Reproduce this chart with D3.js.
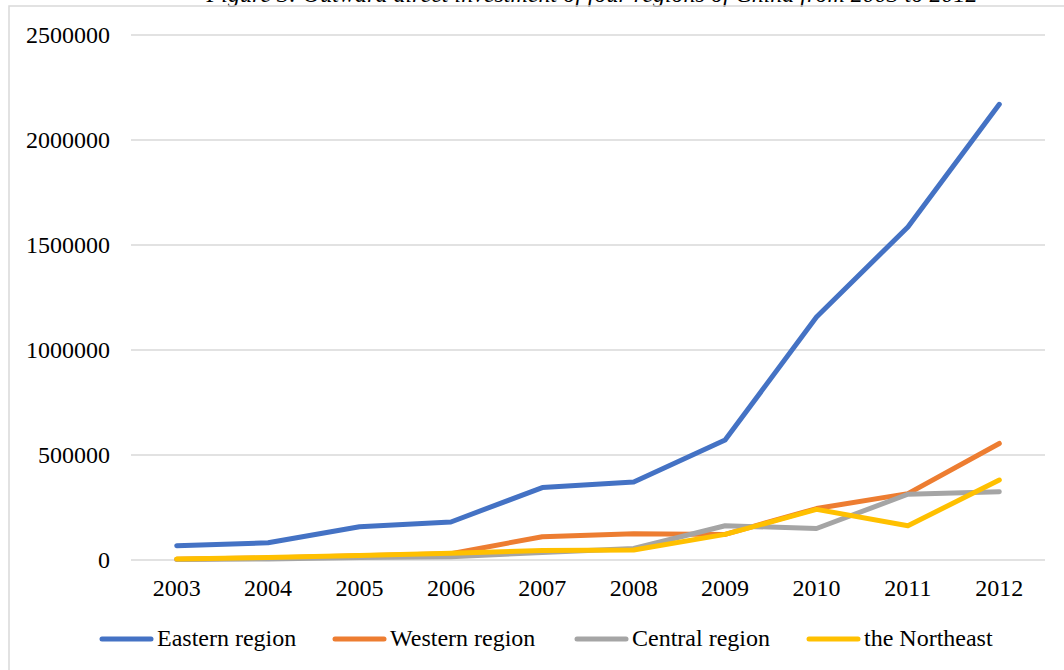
<!DOCTYPE html>
<html>
<head>
<meta charset="utf-8">
<script src="https://cdn.jsdelivr.net/npm/d3@7"></script>
<style>
  html, body { margin: 0; padding: 0; background: #fff; }
  svg { display: block; }
  text { font-family: "Liberation Serif", "Times New Roman", serif; fill: #000; }
</style>
</head>
<body>
<svg id="chart" width="1064" height="670"></svg>
<script>
const years = ["2003","2004","2005","2006","2007","2008","2009","2010","2011","2012"];
const seriesNames = ["Eastern region","Western region","Central region","the Northeast"];
const seriesColors = ["#4472C4","#ED7D31","#A5A5A5","#FFC000"];
const eastern   = [68000, 82000, 158000, 181000, 345000, 371000, 571000, 1157000, 1586000, 2170000];
const western   = [3000, 10000, 20000, 30000, 111000, 125000, 122000, 245000, 316000, 555000];
const central   = [2000, 5000, 12000, 16000, 36000, 55000, 163000, 150000, 313000, 325000];
const northeast = [5000, 12000, 22000, 32000, 45000, 48000, 122000, 241000, 163000, 381000];
const yTicks = [0, 500000, 1000000, 1500000, 2000000, 2500000];
const titleText = "Figure 3: Outward direct investment of four regions of China from 2003 to 2012";

const allSeries = [eastern, western, central, northeast];

const svg = d3.select("#chart");

// title (cut off at top like the reference)
svg.append("text")
  .attr("x", 592).attr("y", 2)
  .attr("text-anchor", "middle")
  .style("font-style", "italic")
  .style("font-size", "24px")
  .text(titleText);

// chart border
svg.append("rect")
  .attr("x", 9).attr("y", 6)
  .attr("width", 1070).attr("height", 680)
  .attr("fill", "none")
  .attr("stroke", "#d9d9d9")
  .attr("stroke-width", 1.5);

const plot = { left: 131, right: 1045, top: 35, bottom: 560 };

const x = d3.scaleBand().domain(years).range([plot.left, plot.right]);
const y = d3.scaleLinear().domain([0, 2500000]).range([plot.bottom, plot.top]);

// gridlines
svg.append("g")
  .selectAll("line")
  .data(yTicks)
  .join("line")
  .attr("x1", plot.left).attr("x2", plot.right)
  .attr("y1", d => y(d)).attr("y2", d => y(d))
  .attr("stroke", "#d9d9d9")
  .attr("stroke-width", 1.5);

// y axis labels
const yAxis = d3.axisLeft(y).tickValues(yTicks).tickSize(0).tickPadding(0).tickFormat(d3.format("d"));
const gy = svg.append("g").attr("transform", `translate(${plot.left - 21},0)`).call(yAxis);
gy.select(".domain").remove();
gy.selectAll("text")
  .style("font-family", '"Liberation Serif", "Times New Roman", serif')
  .style("font-size", "24px")
  .attr("dy", "0.32em");

// x axis labels
const xAxis = d3.axisBottom(x).tickSize(0).tickPadding(0);
const gx = svg.append("g").attr("transform", `translate(0,${plot.bottom + 19})`).call(xAxis);
gx.select(".domain").remove();
gx.selectAll("text")
  .style("font-family", '"Liberation Serif", "Times New Roman", serif')
  .style("font-size", "24px")
  .attr("dy", "0.71em");

// lines
const line = d3.line()
  .x((d, i) => x(years[i]) + x.bandwidth() / 2)
  .y(d => y(d));

svg.append("g")
  .selectAll("path")
  .data(allSeries)
  .join("path")
  .attr("d", d => line(d))
  .attr("fill", "none")
  .attr("stroke", (d, i) => seriesColors[i])
  .attr("stroke-width", 5)
  .attr("stroke-linejoin", "round")
  .attr("stroke-linecap", "round");

// legend
const legendX = [100, 333, 575, 807];
const legendY = 639;
const lg = svg.append("g")
  .selectAll("g")
  .data(seriesNames)
  .join("g")
  .attr("transform", (d, i) => `translate(${legendX[i]},${legendY})`);
lg.append("line")
  .attr("x1", 2).attr("x2", 51)
  .attr("y1", 0).attr("y2", 0)
  .attr("stroke", (d, i) => seriesColors[i])
  .attr("stroke-width", 5)
  .attr("stroke-linecap", "round");
lg.append("text")
  .attr("x", 57).attr("y", 0)
  .attr("dy", "0.3em")
  .style("font-size", "24px")
  .text(d => d);
</script>
</body>
</html>
